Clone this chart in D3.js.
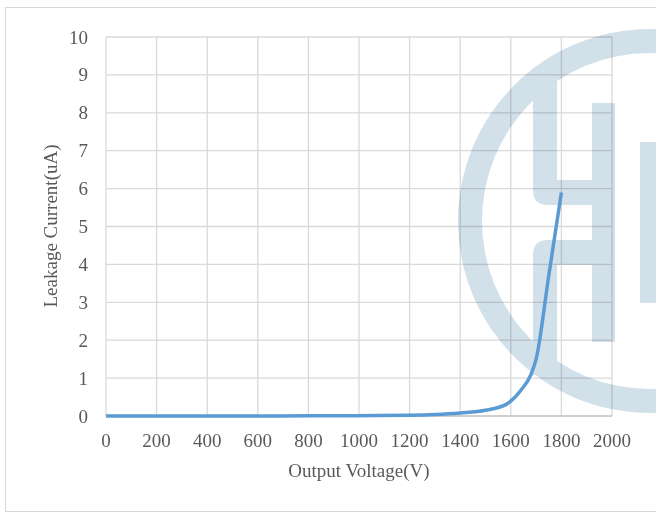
<!DOCTYPE html>
<html>
<head>
    <meta charset="utf-8">
    <title>leakage current</title>
    <script type="text/javascript" src="https://cdn.jsdelivr.net/npm/d3@7"></script>
    <style>
      body { margin: 0; background: #fff; }
      text { font-family: "Liberation Serif", serif; fill: #595959; }
    </style>
</head>
<body>
<script type="text/javascript">

        var width = 656
        var height = 513

        // data
        var voltage = [0, 200, 400, 600, 800, 1000, 1200, 1300, 1400, 1500, 1580, 1640, 1680, 1700, 1750, 1800]
        var current = [0, 0, 0, 0.002, 0.004, 0.008, 0.02, 0.04, 0.08, 0.15, 0.3, 0.68, 1.1, 1.5, 3.7, 5.9]
        var xTicks = [0, 200, 400, 600, 800, 1000, 1200, 1400, 1600, 1800, 2000]
        var yTicks = [0, 1, 2, 3, 4, 5, 6, 7, 8, 9, 10]

        var svg = d3.select("body").append("svg").attr("width", width).attr("height", height)

        // outer chart frame
        svg.append("rect")
            .attr("x", 5.5).attr("y", 7.5)
            .attr("width", 670).attr("height", 504)
            .attr("fill", "none")
            .attr("stroke", "#d9d9d9")

        var x = d3.scaleLinear().domain([0, 2000]).range([106, 612])
        var y = d3.scaleLinear().domain([0, 10]).range([416, 37])

        // gridlines
        svg.selectAll(".vgrid")
            .data(xTicks)
            .enter()
            .append("line")
            .attr("x1", d => x(d)).attr("x2", d => x(d))
            .attr("y1", y(10)).attr("y2", y(0))
            .attr("stroke", "#d9d9d9")
            .attr("stroke-width", 1.3)

        svg.selectAll(".hgrid")
            .data(yTicks.slice(1))
            .enter()
            .append("line")
            .attr("x1", x(0)).attr("x2", x(2000))
            .attr("y1", d => y(d)).attr("y2", d => y(d))
            .attr("stroke", "#d9d9d9")
            .attr("stroke-width", 1.3)

        svg.append("line")
            .attr("x1", x(0)).attr("x2", x(2000))
            .attr("y1", y(0)).attr("y2", y(0))
            .attr("stroke", "#bfbfbf")
            .attr("stroke-width", 1.3)

        // watermark logo
        var wm = svg.append("g")
            .style("mix-blend-mode", "multiply")
            .attr("fill", "#d2e0ea")

        var ring = d3.arc().innerRadius(168).outerRadius(192).startAngle(0).endAngle(2 * Math.PI)
        wm.append("path").attr("transform", "translate(650,221)").attr("d", ring())

        wm.append("path").attr("d", "M533,75 L557,75 L557,180 L615,180 L615,205 L548,205 Q533,205 533,190 Z")
        wm.append("rect").attr("x", 592).attr("y", 103).attr("width", 23).attr("height", 239)
        wm.append("path").attr("d", "M533,375 L533,255 Q533,240 548,240 L615,240 L615,265 L557,265 L557,375 Z")
        wm.append("rect").attr("x", 640).attr("y", 142).attr("width", 30).attr("height", 161)

        // tick labels
        svg.selectAll(".xlab")
            .data(xTicks)
            .enter()
            .append("text")
            .attr("x", d => x(d))
            .attr("y", y(0) + 31)
            .attr("text-anchor", "middle")
            .attr("font-size", 19)
            .text(d => d)

        svg.selectAll(".ylab")
            .data(yTicks)
            .enter()
            .append("text")
            .attr("x", 88)
            .attr("y", d => y(d) + 6.5)
            .attr("text-anchor", "end")
            .attr("font-size", 19)
            .text(d => d)

        // axis titles
        svg.append("text")
            .attr("x", 359).attr("y", 477)
            .attr("text-anchor", "middle")
            .attr("font-size", 19)
            .text("Output Voltage(V)")

        svg.append("text")
            .attr("transform", "translate(57,226) rotate(-90)")
            .attr("text-anchor", "middle")
            .attr("font-size", 19)
            .text("Leakage Current(uA)")

        // the curve
        var line = d3.line()
            .x((d, i) => x(voltage[i]))
            .y(d => y(d))
            .curve(d3.curveMonotoneX)

        svg.append("path")
            .attr("d", line(current))
            .attr("fill", "none")
            .attr("stroke", "#5b9bd5")
            .attr("stroke-width", 3.5)
            .attr("stroke-linejoin", "round")
</script>
</body>
</html>
